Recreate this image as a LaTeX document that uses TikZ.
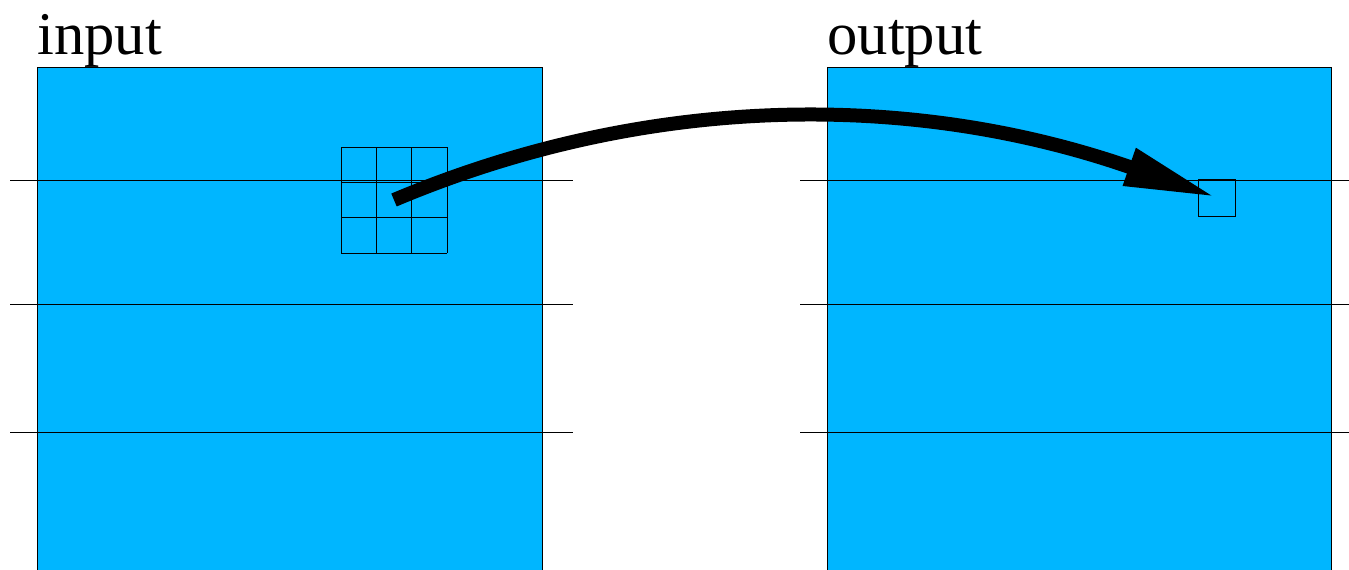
\documentclass[tikz,border=0pt]{standalone}
\usepackage{fontspec}
\setmainfont{Liberation Serif}
\usetikzlibrary{arrows.meta, positioning}
\definecolor{feld}{HTML}{00B6FF}

\begin{document}
\begin{tikzpicture}[x=0.02cm, y=-0.02cm, line width=0.5pt]
      \clip (0,0) rectangle (1349,569);

      % Eingabe- und Ausgabefeld
      \draw[fill=feld] (37,67) rectangle (542,590);
      \draw[fill=feld] (827,67) rectangle (1331,590);
      \node[anchor=base west, inner sep=0, font=\fontsize{34.5}{40}\selectfont] (ein) at (37,54) {input};
      \node[anchor=base west, inner sep=0, font=\fontsize{34.5}{40}\selectfont] (aus) at (827,54) {output};

      % Zeilen
      \foreach \y in {180,304,432} {
        \draw (10,\y) -- (573,\y);
        \draw (800,\y) -- (1349,\y);
      }

      % 3x3 Kern
      \foreach \i in {0,...,3} {
        \draw (341+\i*35.33,147) -- (341+\i*35.33,253);
        \draw (341,147+\i*35.33) -- (447,147+\i*35.33);
      }
      \coordinate (kern) at (394,200);

      % Ausgabepixel
      \node[draw, minimum size=0.74cm, inner sep=0] (pixel) at (1217,197.5) {};

      % Abbildung
      \draw[line width=0.28cm, -{Triangle[length=1.86cm, width=0.72cm]}]
        (kern) .. controls (650,92) and (915,92) .. (pixel.center);
    \end{tikzpicture}
\end{document}
